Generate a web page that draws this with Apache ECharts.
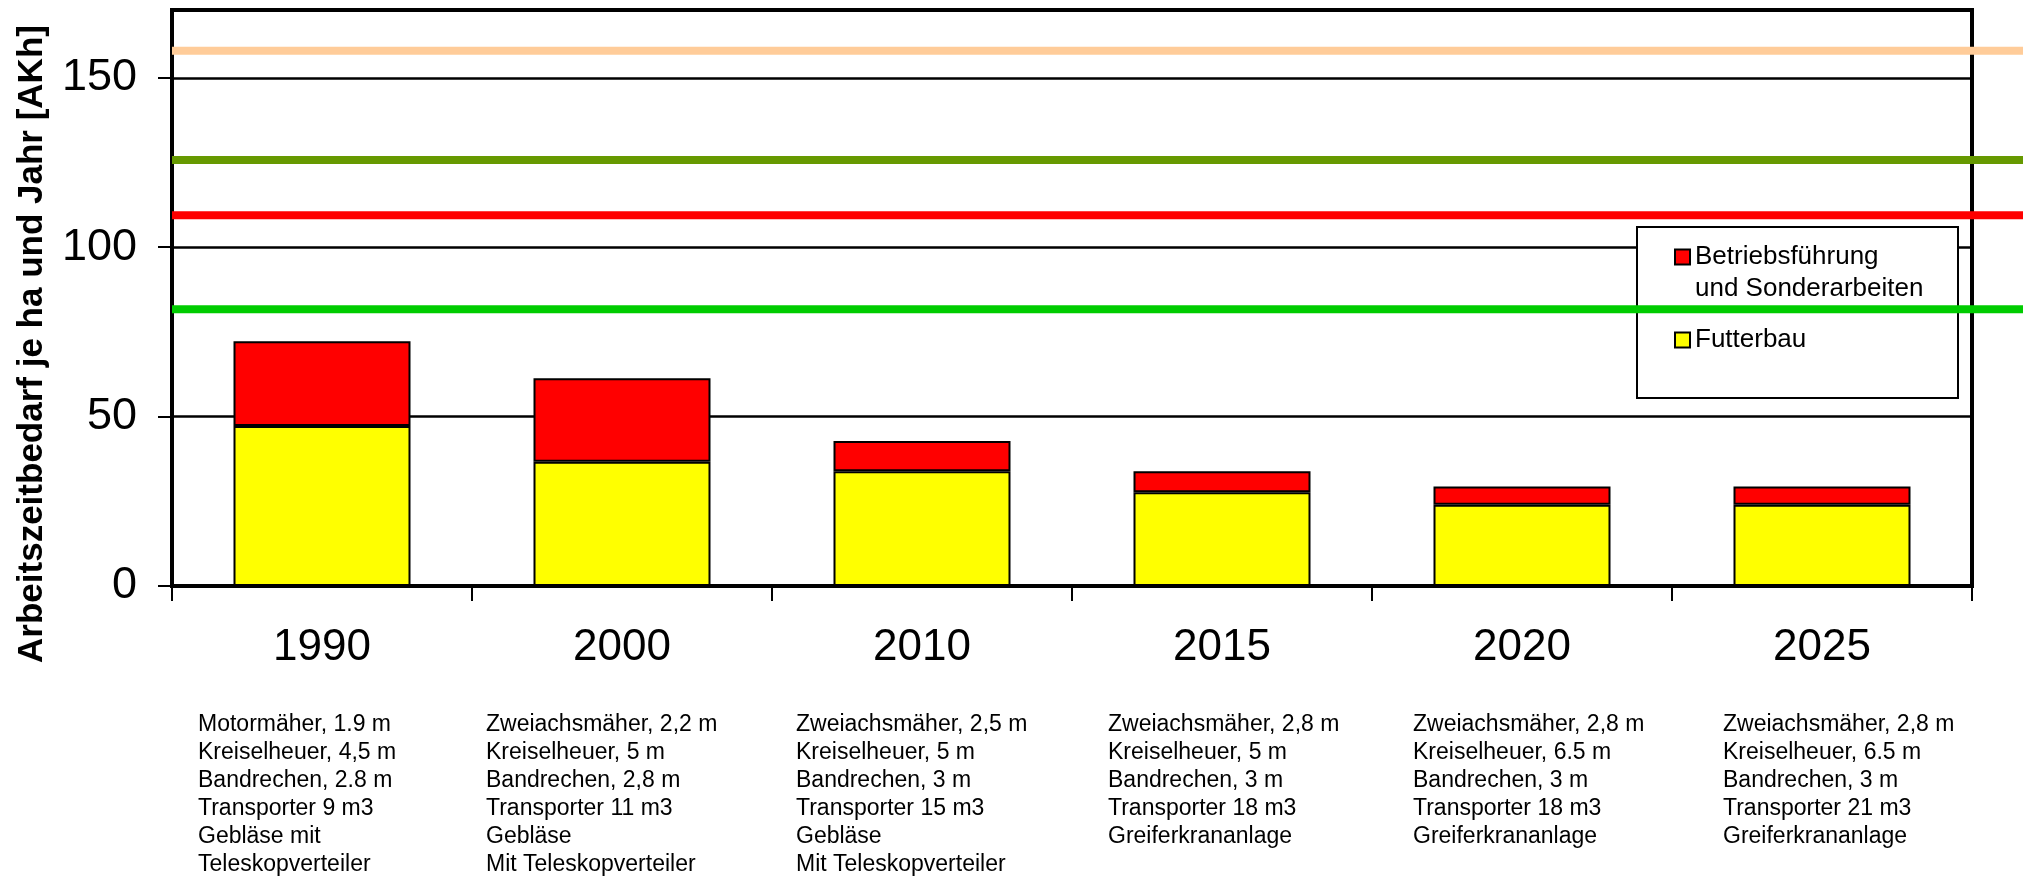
<!DOCTYPE html>
<html>
<head>
<meta charset="utf-8">
<script src="https://cdn.jsdelivr.net/npm/echarts@6/dist/echarts.min.js"></script>
<style>
  html, body { margin: 0; padding: 0; background: #fff; }
  #chart { width: 2029px; height: 877px; }
</style>
</head>
<body>
<div id="chart"></div>
<script>
// Daten
var years = ['1990', '2000', '2010', '2015', '2020', '2025'];
var futterbau = [47.2, 36.7, 33.9, 27.7, 24.0, 24.0];
var betrieb = [25.0, 24.6, 8.9, 6.2, 5.4, 5.4];
var refLines = [158, 125.7, 109.4, 81.7];
var refColors = ['#ffcc99', '#669900', '#ff0000', '#00cc00'];
var yTicks = [0, 50, 100, 150];
var machines = [
    ['Motormäher, 1.9 m', 'Kreiselheuer, 4,5 m', 'Bandrechen, 2.8 m', 'Transporter 9 m3', 'Gebläse mit', 'Teleskopverteiler'],
    ['Zweiachsmäher, 2,2 m', 'Kreiselheuer, 5 m', 'Bandrechen, 2,8 m', 'Transporter 11 m3', 'Gebläse', 'Mit Teleskopverteiler'],
    ['Zweiachsmäher, 2,5 m', 'Kreiselheuer, 5 m', 'Bandrechen, 3 m', 'Transporter 15 m3', 'Gebläse', 'Mit Teleskopverteiler'],
    ['Zweiachsmäher, 2,8 m', 'Kreiselheuer, 5 m', 'Bandrechen, 3 m', 'Transporter 18 m3', 'Greiferkrananlage'],
    ['Zweiachsmäher, 2,8 m', 'Kreiselheuer, 6.5 m', 'Bandrechen, 3 m', 'Transporter 18 m3', 'Greiferkrananlage'],
    ['Zweiachsmäher, 2,8 m', 'Kreiselheuer, 6.5 m', 'Bandrechen, 3 m', 'Transporter 21 m3', 'Greiferkrananlage']
];
// Versatz der Textblöcke zur Kategoriemitte
var descShift = [-124, -136, -126, -114, -109, -99];

var FONT = 'Liberation Sans, Arial, sans-serif';
var betriebName = 'Betriebsführung\nund Sonderarbeiten';

var myChart = echarts.init(document.getElementById('chart'));

// horizontale Linien ueber die ganze Breite
var lineSeries = refLines.map(function (v, i) {
    return {
        type: 'line',
        xAxisIndex: 1,
        yAxisIndex: 1,
        data: [[0, v], [1, v]],
        symbol: 'none',
        silent: true,
        z: 5,
        lineStyle: { color: refColors[i], width: 8 }
    };
});

var option = {
    animation: false,
    backgroundColor: '#fff',
    grid: [
        { left: 172, right: 57, top: 10, bottom: 291, show: true, borderColor: '#000', borderWidth: 4 },
        { left: 172, right: 6, top: 10, bottom: 291 }
    ],
    legend: {
        data: [betriebName, 'Futterbau'],
        // leere erste Zeile, damit das Symbol auf Höhe der ersten Textzeile sitzt
        formatter: function (name) {
            return name === betriebName ? ' \n' + name : name;
        },
        orient: 'vertical',
        left: 1674,
        top: 209,
        padding: 0,
        itemGap: 19,
        itemWidth: 15,
        itemHeight: 15,
        icon: 'rect',
        selectedMode: false,
        z: 6,
        textStyle: { fontFamily: FONT, fontSize: 26, lineHeight: 32, color: '#000' }
    },
    xAxis: [{
        type: 'category',
        data: years,
        gridIndex: 0,
        boundaryGap: true,
        axisLine: { lineStyle: { color: '#000', width: 4 } },
        axisTick: { show: true, length: 15, lineStyle: { color: '#000', width: 2 } },
        axisLabel: { fontFamily: FONT, fontSize: 44, lineHeight: 44, margin: 40, color: '#000' }
    }, {
        type: 'value', gridIndex: 1, min: 0, max: 1, show: false
    }],
    yAxis: [{
        type: 'value',
        gridIndex: 0,
        min: 0,
        max: 170,
        interval: 50,
        axisLine: { show: true, lineStyle: { color: '#000', width: 4 } },
        axisTick: { show: true, length: 14, customValues: yTicks, lineStyle: { color: '#000', width: 2 } },
        axisLabel: { fontFamily: FONT, fontSize: 45, margin: 35, color: '#000', customValues: yTicks },
        splitLine: { lineStyle: { color: '#000', width: 2.5 } }
    }, {
        type: 'value', gridIndex: 1, min: 0, max: 170, show: false
    }],
    series: [{
        name: 'Futterbau',
        type: 'bar',
        stack: 'ges',
        barWidth: '59%',
        data: futterbau,
        itemStyle: { color: '#ffff00', borderColor: '#000', borderWidth: 2 }
    }, {
        name: betriebName,
        type: 'bar',
        stack: 'ges',
        barWidth: '59%',
        data: betrieb,
        itemStyle: { color: '#ff0000', borderColor: '#000', borderWidth: 2 }
    }].concat(lineSeries)
};

myChart.setOption(option);

// Texte: Achsentitel, Legendenrahmen, Maschinenliste
var elements = [{
    type: 'rect',
    z: 1,
    shape: { x: 1637, y: 227, width: 321, height: 171 },
    style: { fill: '#fff', stroke: '#000', lineWidth: 2 }
}, {
    type: 'text',
    x: 32,
    y: 344,
    rotation: Math.PI / 2,
    style: {
        text: 'Arbeitszeitbedarf je ha und Jahr [AKh]',
        font: 'bold 35px ' + FONT,
        fill: '#000',
        align: 'center',
        verticalAlign: 'middle',
        textAlign: 'center',
        textVerticalAlign: 'middle'
    }
}];

years.forEach(function (y, i) {
    var cx = myChart.convertToPixel({ xAxisIndex: 0 }, y);
    elements.push({
        type: 'text',
        x: cx + descShift[i],
        y: 711,
        style: {
            text: machines[i].join('\n'),
            font: '23px ' + FONT,
            lineHeight: 28,
            fill: '#000',
            align: 'left',
            verticalAlign: 'top'
        }
    });
});

myChart.setOption({ graphic: { elements: elements } });
</script>
</body>
</html>
